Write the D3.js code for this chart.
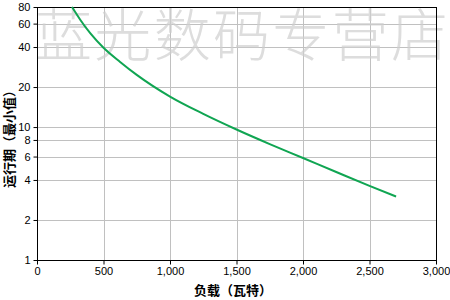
<!DOCTYPE html>
<html lang="zh">
<head>
<meta charset="UTF-8">
<title>运行期</title>
<script src="https://d3js.org/d3.v7.min.js"></script>
<style>
  body { margin: 0; background: #fff; }
</style>
</head>
<body>
<script>
// data
var loadW = [263, 325, 400, 500, 625, 750, 1000, 1250, 1500, 1750, 2000, 2250, 2500, 2700];
var runtimeMin = [80, 64.2, 50.8, 39.5, 30.9, 24.7, 16.96, 12.57, 9.59, 7.45, 5.85, 4.59, 3.61, 3.0];
var xTicks = [0, 500, 1000, 1500, 2000, 2500, 3000];
var yTicks = [1, 2, 4, 6, 8, 10, 20, 40, 60, 80];

var width = 450, height = 300;
// plot box (note: "top" is reserved on window, so use a prefix)
var plotL = 37, plotR = 436, plotT = 7, plotB = 260;

var svg = d3.select("body").append("svg")
    .attr("width", width)
    .attr("height", height);

var x = d3.scaleLinear().domain([0, 3000]).range([plotL, plotR]);
var y = d3.scaleLog().domain([1, 80]).range([plotB, plotT]);

// gridlines
var grid = svg.append("g").attr("stroke", "#c0c0c0").attr("stroke-width", 1);
grid.selectAll(".vx").data(xTicks.slice(1, -1)).enter().append("line")
    .attr("x1", d => Math.round(x(d)) + 0.5).attr("x2", d => Math.round(x(d)) + 0.5)
    .attr("y1", plotT).attr("y2", plotB);
grid.selectAll(".hy").data(yTicks.slice(1, -1)).enter().append("line")
    .attr("y1", d => Math.round(y(d)) + 0.5).attr("y2", d => Math.round(y(d)) + 0.5)
    .attr("x1", plotL).attr("x2", plotR);

// watermark
svg.append("text")
    .attr("x", 35).attr("y", 56)
    .attr("font-family", "'Noto Sans CJK SC', sans-serif")
    .attr("font-weight", 300)
    .attr("font-size", 57)
    .attr("textLength", 413)
    .attr("lengthAdjust", "spacing")
    .attr("fill", "#cfcfcf")
    .attr("opacity", 0.7)
    .text("蓝光数码专营店");

// frame
svg.append("rect")
    .attr("x", plotL + 0.5).attr("y", plotT + 0.5)
    .attr("width", plotR - plotL).attr("height", plotB - plotT)
    .attr("fill", "none").attr("stroke", "#000").attr("stroke-width", 1);

// curve
var line = d3.line()
    .x((d, i) => x(loadW[i]))
    .y(d => y(d))
    .curve(d3.curveMonotoneX);

svg.append("path")
    .datum(runtimeMin)
    .attr("d", line)
    .attr("fill", "none")
    .attr("stroke", "#10a552")
    .attr("stroke-width", 2);

// axes
var xAxis = svg.append("g")
    .attr("transform", "translate(0," + (plotB + 0.5) + ")")
    .call(d3.axisBottom(x).tickValues(xTicks).tickFormat(d3.format(",")).tickSize(4).tickSizeOuter(0).tickPadding(3));
var yAxis = svg.append("g")
    .attr("transform", "translate(" + (plotL + 0.5) + ",0)")
    .call(d3.axisLeft(y).tickValues(yTicks).tickFormat(d3.format("d")).tickSize(4).tickSizeOuter(0).tickPadding(3));

[xAxis, yAxis].forEach(function(a) {
    a.select(".domain").remove();
    a.selectAll("text")
        .attr("font-family", "'Liberation Sans', Arial, sans-serif")
        .attr("font-size", 11)
        .attr("fill", "#000");
    a.selectAll("line").attr("stroke", "#000");
});

// axis titles
svg.append("text")
    .attr("x", 233).attr("y", 295)
    .attr("text-anchor", "middle")
    .attr("font-family", "'Noto Sans CJK SC', sans-serif")
    .attr("font-weight", "bold")
    .attr("font-size", 13)
    .text("负载（瓦特）");

svg.append("text")
    .attr("transform", "translate(14,136) rotate(-90)")
    .attr("text-anchor", "middle")
    .attr("font-family", "'Noto Sans CJK SC', sans-serif")
    .attr("font-weight", "bold")
    .attr("font-size", 13)
    .text("运行期（最小值）");
</script>
</body>
</html>
